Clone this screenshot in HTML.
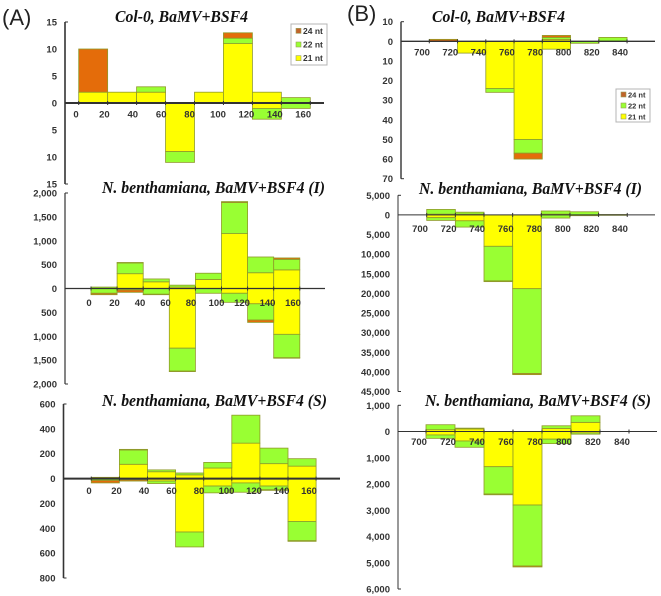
<!DOCTYPE html>
<html lang="en">
<head>
<meta charset="utf-8">
<title>siRNA size distribution charts</title>
<style>
html,body{margin:0;padding:0;background:#fff;width:661px;height:596px;overflow:hidden}
svg{display:block;filter:blur(0.35px)}
.title{font-family:"Liberation Serif",serif;font-weight:bold;font-style:italic;font-size:16.5px;fill:#111}
.tick{font-family:"Liberation Sans",sans-serif;font-weight:bold;font-size:9.5px;fill:#333}
.panel{font-family:"Liberation Sans",sans-serif;font-size:22px;fill:#222}
.leg{font-family:"Liberation Sans",sans-serif;font-weight:bold;font-size:9px;fill:#333}
</style>
</head>
<body>
<svg id="figure" width="661" height="596" viewBox="0 0 661 596" xmlns="http://www.w3.org/2000/svg">
<text class="panel" x="2" y="25">(A)</text>
<text class="panel" x="347" y="21">(B)</text>
</svg>
<script>
// Panel A, chart 1
const a1Labels = ['0','20','40','60','80','100','120','140','160'];
const a1Ticks = [15,10,5,0,-5,-10,-15];
const a1Up21 = [2,2,2,0,2,11,2,0];
const a1Up22 = [0,0,1,0,0,1,0,1];
const a1Up24 = [8,0,0,0,0,1,0,0];
const a1Down21 = [0,0,0,9,0,0,1,0];
const a1Down22 = [0,0,0,2,0,0,2,1];
const a1Down24 = [0,0,0,0,0,0,0,0];
// Panel A, chart 2
const a2Labels = ['0','20','40','60','80','100','120','140','160'];
const a2Ticks = [2000,1500,1000,500,0,-500,-1000,-1500,-2000];
const a2Up21 = [0,310,140,30,190,1150,330,390];
const a2Up22 = [30,225,60,40,130,650,330,220];
const a2Up24 = [0,10,0,0,0,20,0,30];
const a2Down21 = [0,10,0,1250,0,100,320,960];
const a2Down22 = [100,20,120,480,100,190,340,490];
const a2Down24 = [30,50,10,10,0,0,50,10];
// Panel A, chart 3
const a3Labels = ['0','20','40','60','80','100','120','140','160'];
const a3Ticks = [600,400,200,0,-200,-400,-600,-800];
const a3Up21 = [0,115,55,30,85,285,120,100];
const a3Up22 = [0,115,15,15,45,225,125,60];
const a3Up24 = [10,5,0,0,0,0,0,0];
const a3Down21 = [0,0,20,430,60,35,60,345];
const a3Down22 = [15,10,20,120,55,75,30,155];
const a3Down24 = [20,10,0,0,0,0,5,5];
// Panel B, chart 1
const b1Labels = ['700','720','740','760','780','800','820','840'];
const b1Ticks = [10,0,-10,-20,-30,-40,-50,-60,-70];
const b1Up21 = [0,0,0,0,1,0,0];
const b1Up22 = [0,0,0,0,1,0,2];
const b1Up24 = [1,0,0,0,1,0,0];
const b1Down21 = [0,6,24,50,4,0,0];
const b1Down22 = [0,0,2,7,0,1,0];
const b1Down24 = [0,0,0,3,0,0,0];
// Panel B, chart 2
const b2Labels = ['700','720','740','760','780','800','820','840'];
const b2Ticks = [5000,0,-5000,-10000,-15000,-20000,-25000,-30000,-35000,-40000,-45000];
const b2Up21 = [200,200,0,0,200,0,0];
const b2Up22 = [1200,500,0,0,800,800,100];
const b2Up24 = [0,0,0,0,0,0,0];
const b2Down21 = [700,1500,8000,18800,0,0,0];
const b2Down22 = [700,1600,8800,21600,800,200,100];
const b2Down24 = [0,0,200,300,0,0,0];
// Panel B, chart 3
const b3Labels = ['700','720','740','760','780','800','820','840'];
const b3Ticks = [1000,0,-1000,-2000,-3000,-4000,-5000,-6000];
const b3Up21 = [70,100,0,0,120,350,0];
const b3Up22 = [190,30,0,0,100,250,0];
const b3Up24 = [0,0,0,0,0,0,0];
const b3Down21 = [130,360,1340,2800,290,50,0];
const b3Down22 = [130,240,1040,2320,170,50,0];
const b3Down24 = [0,0,30,40,0,0,0];

const legendItems = ['24 nt','22 nt','21 nt'];

const COLORS = {c21:'#FFFF00', c22:'#99FF33', c24:'#E46C0A'};
const NS = 'http://www.w3.org/2000/svg';
const svg = document.getElementById('figure');

function node(tag, attrs, parent){
  const el = document.createElementNS(NS, tag);
  for (const k in attrs) el.setAttribute(k, attrs[k]);
  (parent || svg).appendChild(el);
  return el;
}
function fmt(v){
  return Math.abs(v).toString().replace(/\B(?=(\d{3})+$)/g, ',');
}
function chart(cfg){
  const g = node('g', {});
  
  
  const maxV = cfg.ticks[0], minV = cfg.ticks[cfg.ticks.length - 1];
  const yScale = v => cfg.yTop + (maxV - v) * (cfg.yBottom - cfg.yTop) / (maxV - minV);
  const xScale = i => cfg.xStart + i * cfg.binWidth;
  const y0 = yScale(0);

  function stack(values, sign, color, baseArr, label){
    values.forEach((v, i) => {
      if (!v) return;
      const from = baseArr[i], to = from + v;
      const a = yScale(sign * from), b = yScale(sign * to);
      const r = node('rect', {
        x: xScale(i), width: cfg.binWidth,
        y: Math.min(a, b), height: Math.abs(b - a),
        fill: color, stroke: '#8f9a2a', 'stroke-width': 0.8
      }, g);
      
      
      baseArr[i] = to;
    });
  }
  const upBase = cfg.up21.map(() => 0), downBase = cfg.up21.map(() => 0);
  stack(cfg.up21, 1, COLORS.c21, upBase, 'up-21nt');
  stack(cfg.up22, 1, COLORS.c22, upBase, 'up-22nt');
  stack(cfg.up24, 1, COLORS.c24, upBase, 'up-24nt');
  stack(cfg.down21, -1, COLORS.c21, downBase, 'down-21nt');
  stack(cfg.down22, -1, COLORS.c22, downBase, 'down-22nt');
  stack(cfg.down24, -1, COLORS.c24, downBase, 'down-24nt');

  const yAxis = node('line', {x1: cfg.axisX, x2: cfg.axisX, y1: cfg.yTop, y2: cfg.yBottom, stroke: '#333', 'stroke-width': cfg.axisWidth}, g);
  
  
  cfg.ticks.forEach((v, i) => {
    const y = yScale(v);
    if (i === 0 || i === cfg.ticks.length - 1) {
      node('line', {x1: cfg.axisX, x2: cfg.axisX + 3, y1: y, y2: y, stroke: '#333', 'stroke-width': 1}, g);
    }
    const t = node('text', {class: 'tick', x: cfg.axisX - 8, y: y + 3.5, 'text-anchor': 'end'}, g);
    
    
    t.textContent = fmt(v);
  });

  const xAxis = node('line', {x1: cfg.axisX, x2: cfg.axisEnd, y1: y0, y2: y0, stroke: '#333', 'stroke-width': cfg.xAxisWidth}, g);
  
  
  for (let i = 0; i <= cfg.up21.length + 1; i++) {
    const x = xScale(i);
    if (x > cfg.axisEnd) break;
    node('line', {x1: x, x2: x, y1: y0 - 2, y2: y0 + 2, stroke: '#333', 'stroke-width': 1}, g);
  }
  cfg.labels.forEach((lab, i) => {
    const t = node('text', {class: 'tick', x: cfg.labelStart + i * cfg.labelStep, y: y0 + cfg.labelDrop, 'text-anchor': 'middle'}, g);
    
    
    t.textContent = lab;
  });

  const title = node('text', {class: 'title', x: cfg.titleX, y: cfg.titleY, textLength: cfg.titleW, lengthAdjust: 'spacingAndGlyphs'}, g);
  
  
  title.textContent = cfg.title;
}
function legend(name, x, y, w, h, sw, fs){
  const g = node('g', {});
  
  
  node('rect', {x: x, y: y, width: w, height: h, fill: '#fff', stroke: '#b4b4b4', 'stroke-width': 1}, g);
  const cols = ['#C0642A', COLORS.c22, COLORS.c21];
  legendItems.forEach((lab, i) => {
    const cy = y + h * (i + 0.5) / 3;
    const s = node('rect', {x: x + 5, y: cy - sw / 2, width: sw, height: sw, fill: cols[i], stroke: '#9aa05a', 'stroke-width': 0.6}, g);
    
    
    const t = node('text', {class: 'leg', x: x + 5 + sw + 2, y: cy + 3, style: 'font-size:' + fs + 'px'}, g);
    
    
    t.textContent = lab;
  });
}

chart({name:'chart-a1', title:'Col-0, BaMV+BSF4', titleX:115, titleY:22, titleW:133,
  ticks:a1Ticks, labels:a1Labels, yTop:22, yBottom:184, axisX:65, axisEnd:324, axisWidth:1.6, xAxisWidth:2,
  xStart:78.7, binWidth:28.95, labelStart:76, labelStep:28.4, labelDrop:14.5,
  up21:a1Up21, up22:a1Up22, up24:a1Up24, down21:a1Down21, down22:a1Down22, down24:a1Down24});
chart({name:'chart-a2', title:'N. benthamiana, BaMV+BSF4 (I)', titleX:102, titleY:193, titleW:223,
  ticks:a2Ticks, labels:a2Labels, yTop:193, yBottom:384, axisX:65, axisEnd:325, axisWidth:1.2, xAxisWidth:1.2,
  xStart:91, binWidth:26.1, labelStart:89, labelStep:25.5, labelDrop:17.5,
  up21:a2Up21, up22:a2Up22, up24:a2Up24, down21:a2Down21, down22:a2Down22, down24:a2Down24});
chart({name:'chart-a3', title:'N. benthamiana, BaMV+BSF4 (S)', titleX:102, titleY:406, titleW:225,
  ticks:a3Ticks, labels:a3Labels, yTop:404, yBottom:578, axisX:63.5, axisEnd:340, axisWidth:1.6, xAxisWidth:2,
  xStart:91.3, binWidth:28.1, labelStart:89, labelStep:27.5, labelDrop:15.5,
  up21:a3Up21, up22:a3Up22, up24:a3Up24, down21:a3Down21, down22:a3Down22, down24:a3Down24});
chart({name:'chart-b1', title:'Col-0, BaMV+BSF4', titleX:432, titleY:22, titleW:133,
  ticks:b1Ticks, labels:b1Labels, yTop:21.7, yBottom:178.7, axisX:401, axisEnd:655, axisWidth:1.4, xAxisWidth:1.4,
  xStart:429.3, binWidth:28.25, labelStart:422, labelStep:28.3, labelDrop:14,
  up21:b1Up21, up22:b1Up22, up24:b1Up24, down21:b1Down21, down22:b1Down22, down24:b1Down24});
chart({name:'chart-b2', title:'N. benthamiana, BaMV+BSF4 (I)', titleX:419, titleY:194, titleW:223,
  ticks:b2Ticks, labels:b2Labels, yTop:195.3, yBottom:391.5, axisX:398, axisEnd:655, axisWidth:1, xAxisWidth:1,
  xStart:426.7, binWidth:28.65, labelStart:420, labelStep:28.57, labelDrop:17,
  up21:b2Up21, up22:b2Up22, up24:b2Up24, down21:b2Down21, down22:b2Down22, down24:b2Down24});
chart({name:'chart-b3', title:'N. benthamiana, BaMV+BSF4 (S)', titleX:425, titleY:406, titleW:226,
  ticks:b3Ticks, labels:b3Labels, yTop:405.3, yBottom:589, axisX:398, axisEnd:657, axisWidth:1, xAxisWidth:1,
  xStart:426, binWidth:29, labelStart:419, labelStep:29, labelDrop:13.5,
  up21:b3Up21, up22:b3Up22, up24:b3Up24, down21:b3Down21, down22:b3Down22, down24:b3Down24});

legend('legend-a', 291, 24, 36, 41, 5, 8.5);
legend('legend-b', 616, 89, 34, 33, 5, 7.5);
</script>
</body>
</html>
